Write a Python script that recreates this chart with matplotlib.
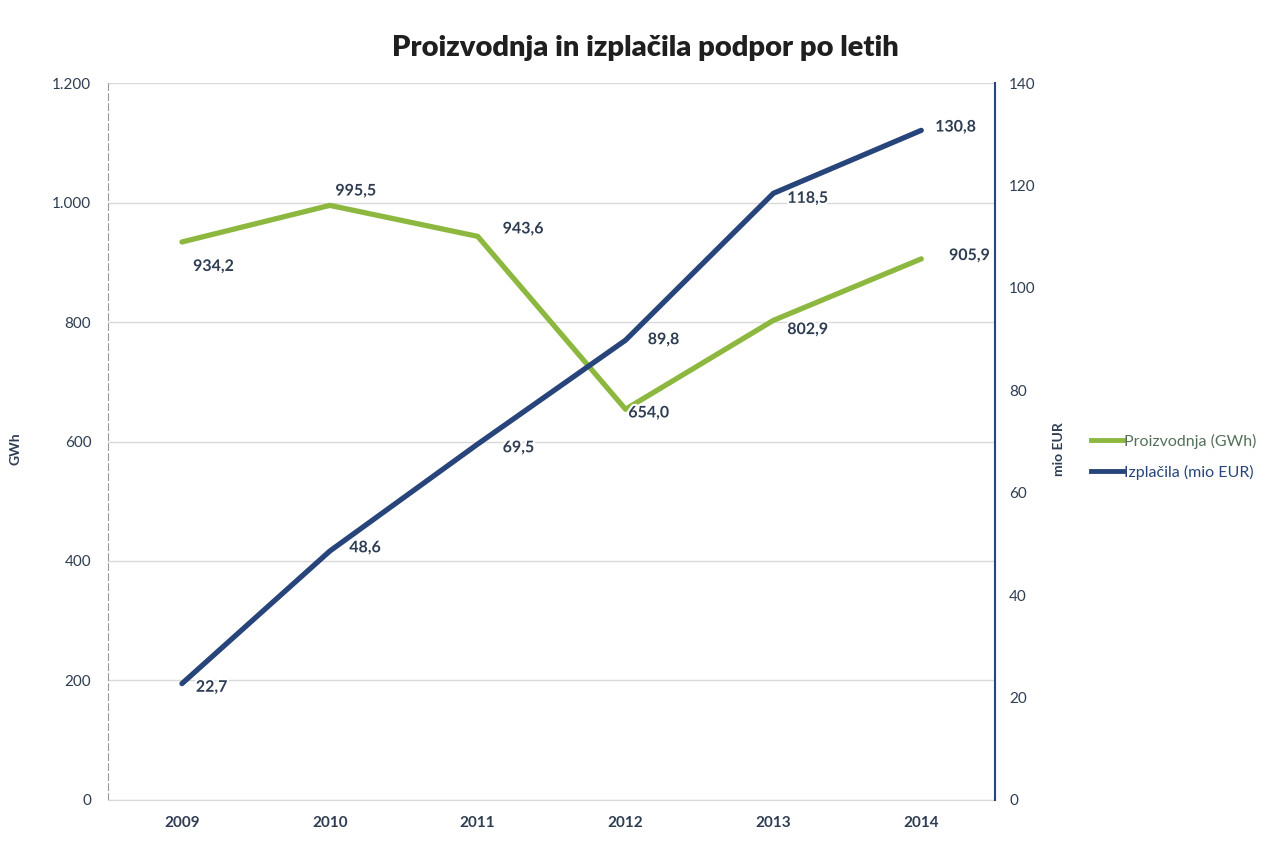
import matplotlib
matplotlib.use("Agg")
import matplotlib.pyplot as plt
import matplotlib.patheffects as pe
from matplotlib.lines import Line2D

plt.rcParams['font.family'] = ['Lato', 'DejaVu Sans']

years = ['2009', '2010', '2011', '2012', '2013', '2014']
proizvodnja = [934.2, 995.5, 943.6, 654.0, 802.9, 905.9]
izplacila = [22.7, 48.6, 69.5, 89.8, 118.5, 130.8]
left_ticks = [0, 200, 400, 600, 800, 1000, 1200]
left_tick_labels = ['0', '200', '400', '600', '800', '1.000', '1.200']
right_ticks = [0, 20, 40, 60, 80, 100, 120, 140]

green = '#8db83f'
navy = '#27457a'
txt = '#2f3d52'

fig = plt.figure(figsize=(12.71, 8.41), dpi=100)
ax = fig.add_axes([0.085, 0.049, 0.698, 0.852])
ax2 = ax.twinx()

x = list(range(len(years)))
ax.plot(x, proizvodnja, color=green, lw=3.8, solid_capstyle='round', zorder=3)
ax2.plot(x, izplacila, color=navy, lw=3.8, solid_capstyle='round', zorder=3)

ax.set_xlim(-0.5, len(years) - 0.5)
ax.set_ylim(0, 1200)
ax2.set_ylim(0, 140)
ax.set_yticks(left_ticks)
ax.set_yticklabels(left_tick_labels)
ax2.set_yticks(right_ticks)
ax.set_xticks(x)
ax.set_xticklabels(years, fontweight='bold')
ax.grid(axis='y', color='#d9d9d9', lw=1)
ax.set_axisbelow(True)

for a in (ax, ax2):
    a.spines['top'].set_visible(False)
    a.tick_params(axis='both', length=0, colors=txt, labelsize=11)
ax.spines['right'].set_visible(False)
ax.spines['bottom'].set_color('#d9d9d9')
ax.spines['left'].set_color('#999999')
ax.spines['left'].set_linestyle((0, (6, 3)))
ax2.spines['left'].set_visible(False)
ax2.spines['bottom'].set_visible(False)
ax2.spines['right'].set_color(navy)
ax2.spines['right'].set_linewidth(1.5)
ax.tick_params(axis='x', pad=12)
ax.tick_params(axis='y', pad=12)
ax2.tick_params(axis='y', pad=10)

ax.set_ylabel('GWh', color=txt, fontsize=10, fontweight='bold')
ax.yaxis.set_label_coords(-0.098, 0.49)
ax2.set_ylabel('mio EUR', color=txt, fontsize=10, fontweight='bold')
ax2.yaxis.set_label_coords(1.065, 0.49)

halo = [pe.withStroke(linewidth=3, foreground='white')]
fmt = lambda v: f"{v:.1f}".replace('.', ',')
g_off = [(8, -18), (4, 10), (18, 5), (2, -3), (10, -7), (20, 2)]
for xi, v, (dx, dy) in zip(x, proizvodnja, g_off):
    ax.annotate(fmt(v), (xi, v), xytext=(dx, dy), textcoords='offset points',
                fontsize=11.5, fontweight='bold', color=txt, path_effects=halo,
                va='center', ha='left', zorder=5)
b_off = [(10, -3), (14, 2), (18, -3), (16, 0), (10, -4), (10, 2)]
for xi, v, (dx, dy) in zip(x, izplacila, b_off):
    ax2.annotate(fmt(v), (xi, v), xytext=(dx, dy), textcoords='offset points',
                 fontsize=11.5, fontweight='bold', color=txt, path_effects=halo,
                 va='center', ha='left', zorder=5)

fig.text(0.508, 0.943, 'Proizvodnja in izplačila podpor po letih', ha='center',
         va='center', fontsize=21, fontweight='heavy', color='#1f1f1f')

handles = [Line2D([], [], color=green, lw=3.5), Line2D([], [], color=navy, lw=3.5)]
leg = fig.legend(handles, ['Proizvodnja (GWh)', 'Izplačila (mio EUR)'],
                 loc='center left', bbox_to_anchor=(0.847, 0.457), frameon=False,
                 handlelength=2.0, handletextpad=0.1, labelspacing=1.0, fontsize=11.5)
for t, c in zip(leg.get_texts(), ['#55705a', navy]):
    t.set_color(c)

fig.savefig('out.png', dpi=100, facecolor='white')
